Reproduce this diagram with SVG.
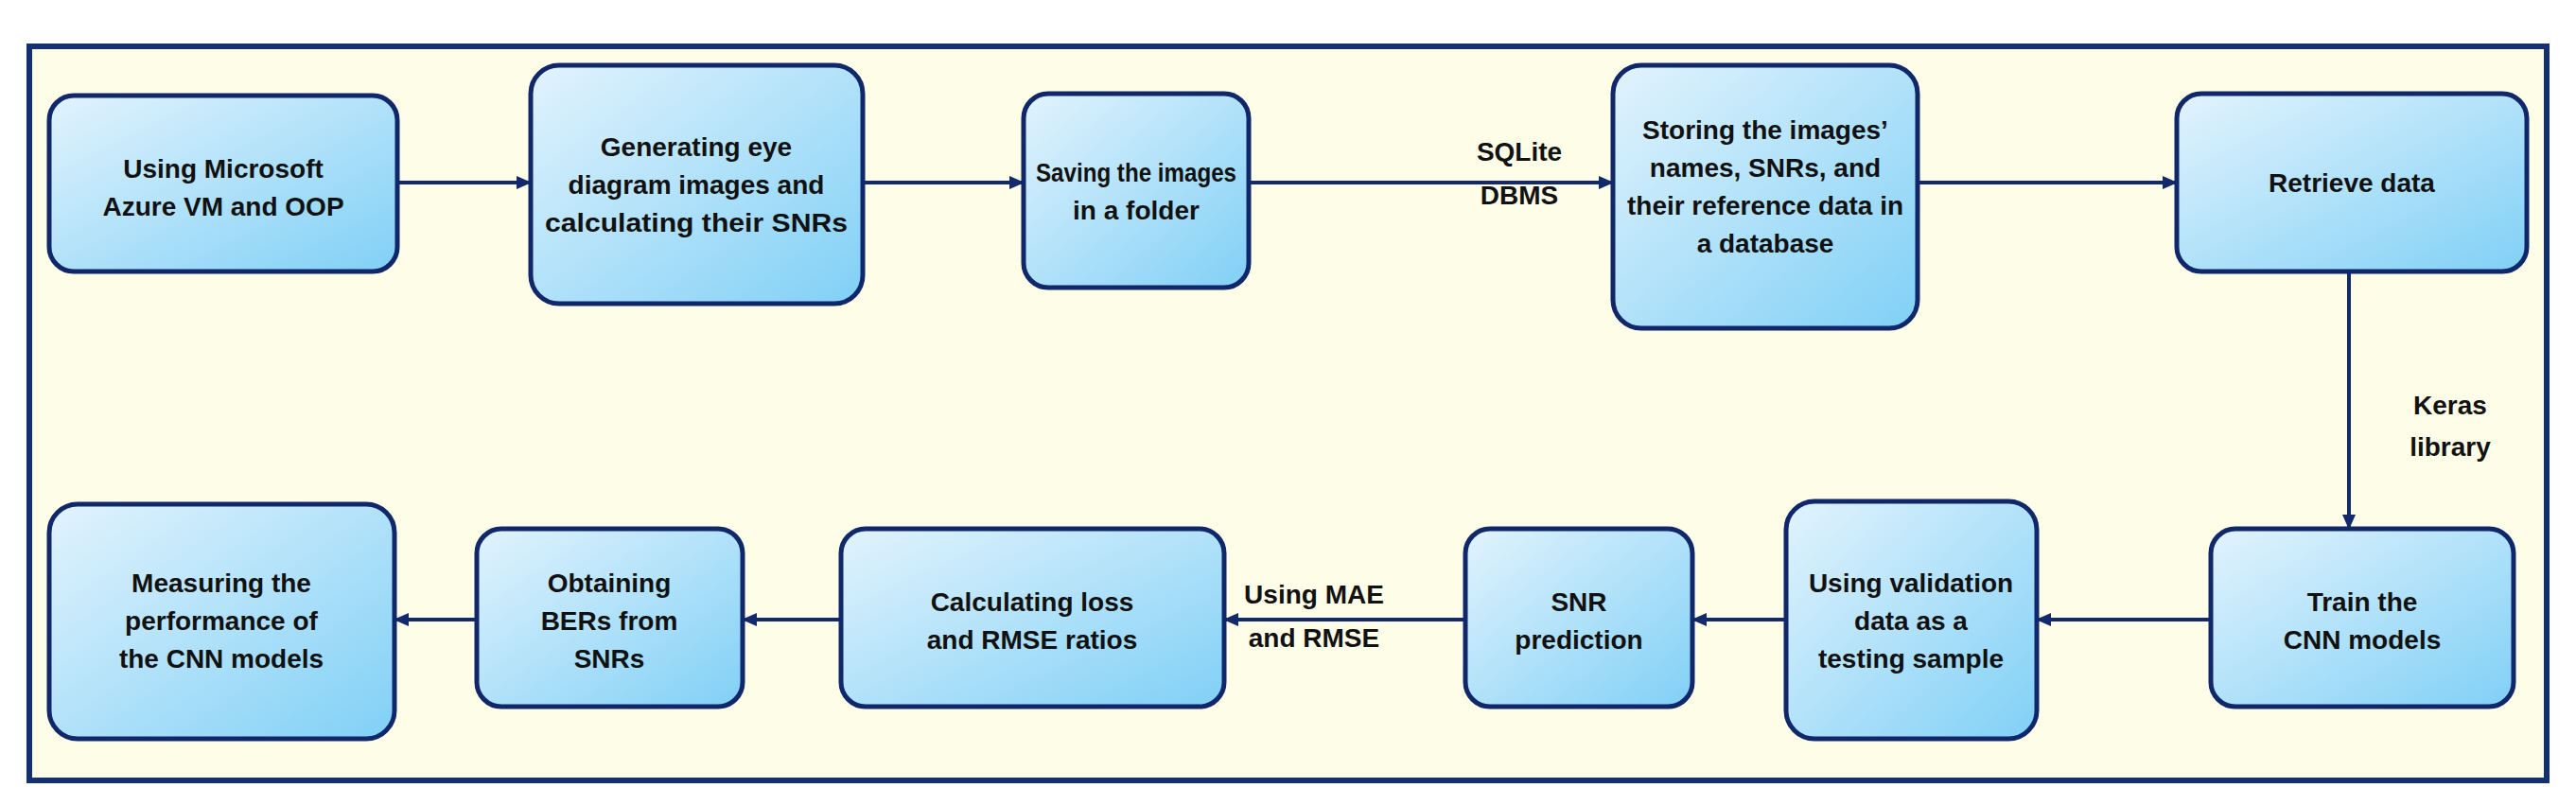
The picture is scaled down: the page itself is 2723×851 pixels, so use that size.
<svg xmlns="http://www.w3.org/2000/svg" width="2723" height="851" viewBox="0 0 2723 851">
<defs>
<linearGradient id="g" x1="0" y1="0" x2="1" y2="1"><stop offset="0" stop-color="#e2f3fd"/><stop offset="1" stop-color="#80d0f6"/></linearGradient>
<marker id="a" markerWidth="16" markerHeight="16" refX="15" refY="8" orient="auto" markerUnits="userSpaceOnUse"><path d="M0,1 L16,8 L0,15 z" fill="#12296b"/></marker>
<style>
.b{fill:url(#g);stroke:#10286a;stroke-width:5}
.t{font-family:"Liberation Sans",Arial,sans-serif;font-weight:bold;font-size:28px;fill:#111;text-anchor:middle}
.c{stroke:#12296b;stroke-width:4;fill:none;marker-end:url(#a)}
</style>
</defs>
<rect width="2723" height="851" fill="#fff"/>
<rect x="31" y="49" width="2661" height="776" fill="#fefde8" stroke="#14306f" stroke-width="6"/>
<g id="connectors">
<line class="c" x1="420" y1="193" x2="561" y2="193"/>
<line class="c" x1="912" y1="193" x2="1082" y2="193"/>
<line class="c" x1="1320" y1="193" x2="1705" y2="193"/>
<line class="c" x1="2027" y1="193" x2="2301" y2="193"/>
<line class="c" x1="2483" y1="287" x2="2483" y2="559"/>
<line class="c" x1="2337" y1="655" x2="2153" y2="655"/>
<line class="c" x1="1888" y1="655" x2="1789" y2="655"/>
<line class="c" x1="1549" y1="655" x2="1294" y2="655"/>
<line class="c" x1="889" y1="655" x2="785" y2="655"/>
<line class="c" x1="504" y1="655" x2="417" y2="655"/>
<text class="t" x="1606" y="170">SQLite</text>
<text class="t" x="1606" y="216">DBMS</text>
<text class="t" x="2590" y="438">Keras</text>
<text class="t" x="2590" y="482">library</text>
<text class="t" x="1389" y="638">Using MAE</text>
<text class="t" x="1389" y="684">and RMSE</text>
</g>
<g id="n1"><rect class="b" x="52" y="101" width="368" height="186" rx="26"/><text class="t" x="236" y="188">Using Microsoft</text><text class="t" x="236" y="228">Azure VM and OOP</text></g>
<g id="n2"><rect class="b" x="561" y="69" width="351" height="252" rx="30"/><text class="t" x="736" y="165">Generating eye</text><text class="t" x="736" y="205">diagram images and</text><text class="t" x="736" y="245" textLength="320" lengthAdjust="spacingAndGlyphs">calculating their SNRs</text></g>
<g id="n3"><rect class="b" x="1082" y="99" width="238" height="205" rx="26"/><text class="t" x="1201" y="192" textLength="212" lengthAdjust="spacingAndGlyphs">Saving the images</text><text class="t" x="1201" y="232">in a folder</text></g>
<g id="n4"><rect class="b" x="1705" y="69" width="322" height="278" rx="30"/><text class="t" x="1866" y="147">Storing the images’</text><text class="t" x="1866" y="187">names, SNRs, and</text><text class="t" x="1866" y="227" textLength="292" lengthAdjust="spacingAndGlyphs">their reference data in</text><text class="t" x="1866" y="267">a database</text></g>
<g id="n5"><rect class="b" x="2301" y="99" width="370" height="188" rx="26"/><text class="t" x="2486" y="203">Retrieve data</text></g>
<g id="n6"><rect class="b" x="2337" y="559" width="320" height="188" rx="26"/><text class="t" x="2497" y="646">Train the</text><text class="t" x="2497" y="686">CNN models</text></g>
<g id="n7"><rect class="b" x="1888" y="530" width="265" height="251" rx="30"/><text class="t" x="2020" y="626">Using validation</text><text class="t" x="2020" y="666">data as a</text><text class="t" x="2020" y="706">testing sample</text></g>
<g id="n8"><rect class="b" x="1549" y="559" width="240" height="188" rx="26"/><text class="t" x="1669" y="646">SNR</text><text class="t" x="1669" y="686">prediction</text></g>
<g id="n9"><rect class="b" x="889" y="559" width="405" height="188" rx="26"/><text class="t" x="1091" y="646">Calculating loss</text><text class="t" x="1091" y="686">and RMSE ratios</text></g>
<g id="n10"><rect class="b" x="504" y="559" width="281" height="188" rx="26"/><text class="t" x="644" y="626">Obtaining</text><text class="t" x="644" y="666">BERs from</text><text class="t" x="644" y="706">SNRs</text></g>
<g id="n11"><rect class="b" x="52" y="533" width="365" height="248" rx="30"/><text class="t" x="234" y="626">Measuring the</text><text class="t" x="234" y="666">performance of</text><text class="t" x="234" y="706">the CNN models</text></g>
</svg>
